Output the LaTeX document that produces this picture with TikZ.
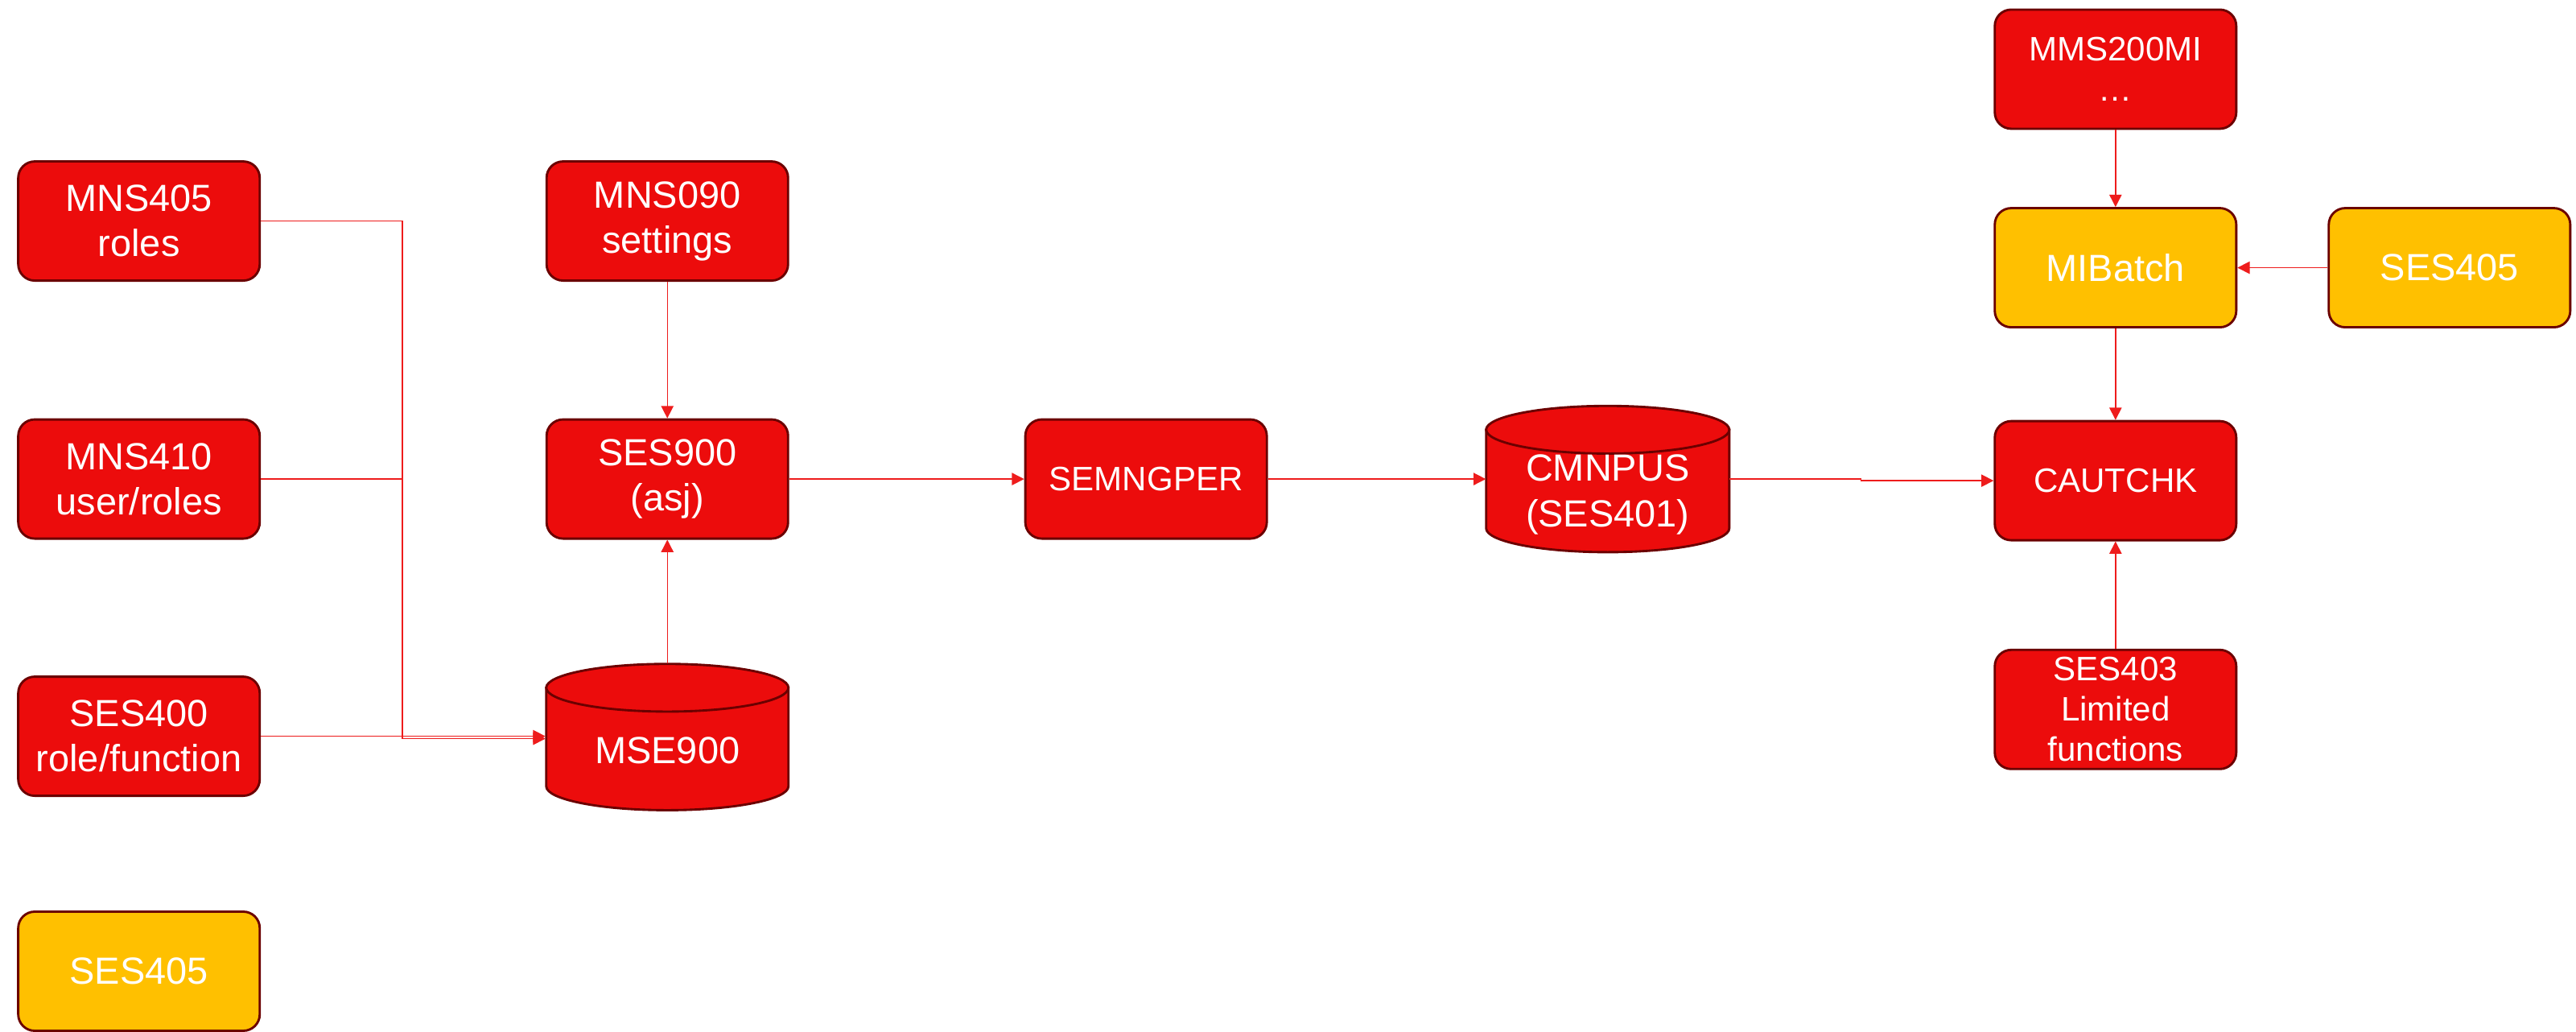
\documentclass[tikz,border=0pt]{standalone}
\usepackage{fontspec}
\setmainfont{Liberation Sans}
\usetikzlibrary{arrows.meta}
\definecolor{boxred}{HTML}{EC0C0C}
\definecolor{boxyellow}{HTML}{FFC000}
\definecolor{boxline}{HTML}{6B0000}
\definecolor{linkred}{HTML}{EE1C1C}
\begin{document}
\begin{tikzpicture}[x=1pt,y=1pt,
  box/.style={draw=boxline, line width=1.4pt, fill=boxred, rounded corners=10pt,
    minimum width=147pt, minimum height=72.5pt, inner sep=0pt, text=white,
    align=center, font=\fontsize{23}{27.5}\selectfont},
  ybox/.style={box, fill=boxyellow},
  small/.style={font=\fontsize{20.6}{24.6}\selectfont},
  drum/.style={draw=boxline, line width=1.4pt, fill=boxred},
  drumarea/.style={minimum width=148pt, minimum height=89pt, inner sep=0pt},
  drumtext/.style={text=white, align=center, inner sep=0pt, font=\fontsize{23}{27.5}\selectfont},
  link/.style={draw=linkred, line width=0.7pt, -{Triangle[length=7.5pt,width=7.5pt]}}]
\useasboundingbox (0,0) rectangle (1568,627.5);

% left column
\node[box] (mns405) at (84.6,493) {MNS405\\roles};
\node[box] (mns410) at (84.6,336) {MNS410\\user/roles};
\node[box] (ses400) at (84.6,179.5) {SES400\\role/function};
\node[ybox] (ses405l) at (84.6,36.5) {SES405};

% second column
\node[box] (mns090) at (406.2,493) {MNS090\\settings};
\node[box] (ses900) at (406.2,336) {SES900\\(asj)};
\draw[drum] (332.5,209) -- (332.5,149) arc[start angle=180, end angle=360, x radius=73.7, y radius=14.5] -- (479.9,209) -- cycle;
\draw[drum] (406.2,209) ellipse [x radius=73.7, y radius=14.5];
\node[drumarea] (mse) at (406.2,179) {};
\node[drumtext] (mselbl) at (406.2,171) {MSE900};

% middle
\node[box, small] (semng) at (697.6,336) {SEMNGPER};
\draw[drum] (904.6,366) -- (904.6,306) arc[start angle=180, end angle=360, x radius=74, y radius=14.5] -- (1052.6,366) -- cycle;
\draw[drum] (978.6,366) ellipse [x radius=74, y radius=14.5];
\node[drumarea] (cmn) at (978.6,336) {};
\node[drumtext] (cmnlbl) at (978.6,326.5) {CMNPUS\\(SES401)};

% right column
\node[box, small] (mms) at (1287.7,585.4) {MMS200MI\\…};
\node[ybox] (mib) at (1287.7,464.6) {MIBatch};
\node[ybox] (ses405r) at (1491,464.6) {SES405};
\node[box, small] (caut) at (1287.7,335) {CAUTCHK};
\node[box, small] (ses403) at (1287.7,195.8) {SES403\\Limited\\functions};

% connectors
\coordinate (bus) at (245,178);
\draw[link] (mns405.east) -| (bus) -- (bus -| mse.west);
\draw[link,-] (mns410.east) -- (mns410.east -| bus);
\draw[link] (ses400.east) -- (ses400.east -| mse.west);
\draw[link] (mns090) -- (ses900);
\draw[link] (mse) -- (ses900);
\draw[link] (ses900) -- (semng);
\draw[link] (semng) -- (cmn);
\draw[link] (cmn.east) -- ++(80,0) |- (caut.west);
\draw[link] (mms) -- (mib);
\draw[link] (ses405r) -- (mib);
\draw[link] (mib) -- (caut);
\draw[link] (ses403) -- (caut);
\end{tikzpicture}
\end{document}
